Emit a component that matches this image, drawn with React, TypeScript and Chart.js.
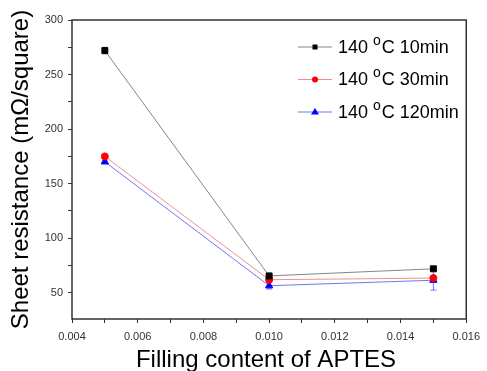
import React, { useEffect, useRef } from "react";
import { Chart, registerables } from "chart.js";

Chart.register(...registerables);

const xValues = [0.005, 0.01, 0.015];
const series10min = [272, 65.5, 72];
const series30min = [175, 62, 63.5];
const series120min = [170, 56.5, 61.5];
const err10min = [3, 1, 1];
const err30min = [1, 1, 1.5];
const err120min = [1, 3, 9];
const seriesLabels = ["10min", "30min", "120min"];
const xTicks = [0.004, 0.005, 0.006, 0.007, 0.008, 0.009, 0.01, 0.011, 0.012, 0.013, 0.014, 0.015, 0.016];
const yTicks = [50, 75, 100, 125, 150, 175, 200, 225, 250, 275, 300];
const xTitle = "Filling content of APTES";
const yTitle = "Sheet resistance (mΩ/square)";

const FONT = "'Liberation Sans', Arial, sans-serif";

export default function App() {
  const ref = useRef<HTMLCanvasElement | null>(null);

  useEffect(() => {
    document.body.style.margin = "0";
    const canvas = ref.current;
    if (!canvas) return;

    const colors = ["#000000", "#ff0000", "#0000ff"];
    const lineColors = ["#666666", "#f07070", "#5050f0"];
    const styles = ["rect", "circle", "triangle"];
    const radii = [4.2, 3.5, 4.2];
    const all = [series10min, series30min, series120min];
    const errs = [err10min, err30min, err120min];

    const errorBars = {
      id: "errorBars",
      beforeDatasetsDraw(chart: any) {
        const ctx = chart.ctx;
        const xs = chart.scales.x;
        const ys = chart.scales.y;
        ctx.save();
        all.forEach((vals, i) => {
          ctx.strokeStyle = lineColors[i];
          ctx.lineWidth = 0.8;
          vals.forEach((v, j) => {
            const px = xs.getPixelForValue(xValues[j]);
            const top = ys.getPixelForValue(v + errs[i][j]);
            const bot = ys.getPixelForValue(v - errs[i][j]);
            ctx.beginPath();
            ctx.moveTo(px, top);
            ctx.lineTo(px, bot);
            ctx.moveTo(px - 3, top);
            ctx.lineTo(px + 3, top);
            ctx.moveTo(px - 3, bot);
            ctx.lineTo(px + 3, bot);
            ctx.stroke();
          });
        });
        ctx.restore();
      },
    };

    const frame = {
      id: "frame",
      afterDraw(chart: any) {
        const ctx = chart.ctx;
        const a = chart.chartArea;
        ctx.save();
        ctx.strokeStyle = "#333333";
        ctx.lineWidth = 1.5;
        ctx.strokeRect(a.left, a.top, a.right - a.left, a.bottom - a.top);
        // x title
        ctx.fillStyle = "#000000";
        ctx.font = `24px ${FONT}`;
        ctx.textAlign = "center";
        ctx.textBaseline = "alphabetic";
        ctx.fillText(xTitle, 266, 367);
        // legend
        const x0 = 298;
        seriesLabels.forEach((lab, i) => {
          const y = 47 + 32.5 * i;
          ctx.strokeStyle = lineColors[i];
          ctx.lineWidth = 0.8;
          ctx.beginPath();
          ctx.moveTo(x0, y);
          ctx.lineTo(x0 + 34, y);
          ctx.stroke();
          ctx.fillStyle = colors[i];
          ctx.beginPath();
          if (i === 0) {
            ctx.rect(x0 + 17 - 2.5, y - 2.5, 5, 5);
          } else if (i === 1) {
            ctx.arc(x0 + 17, y, 3, 0, Math.PI * 2);
          } else {
            ctx.moveTo(x0 + 17, y - 4);
            ctx.lineTo(x0 + 21, y + 2.5);
            ctx.lineTo(x0 + 13, y + 2.5);
            ctx.closePath();
          }
          ctx.fill();
          ctx.fillStyle = "#000000";
          ctx.textBaseline = "middle";
          ctx.textAlign = "left";
          ctx.font = `18px ${FONT}`;
          let tx = 338;
          ctx.fillText("140 ", tx, y + 1);
          tx += ctx.measureText("140 ").width;
          ctx.font = `14px ${FONT}`;
          ctx.fillText("o", tx, y - 6);
          tx += ctx.measureText("o").width + 1;
          ctx.font = `18px ${FONT}`;
          ctx.fillText("C " + lab, tx, y + 1);
        });
        ctx.restore();
      },
    };

    const datasets = all.map((vals, i) => ({
      label: "140 oC " + seriesLabels[i],
      data: vals.map((v, j) => ({ x: xValues[j], y: v })),
      borderColor: lineColors[i],
      backgroundColor: colors[i],
      pointBackgroundColor: colors[i],
      pointBorderColor: colors[i],
      pointStyle: styles[i],
      pointRadius: radii[i],
      borderWidth: 0.8,
      pointBorderWidth: 1,
      tension: 0,
    }));

    const chart = new Chart(canvas, {
      type: "line",
      data: { datasets },
      plugins: [errorBars, frame],
      options: {
        responsive: false,
        animation: false,
        layout: { padding: { top: 20, right: 15, left: 0, bottom: 0 } },
        plugins: { legend: { display: false }, tooltip: { enabled: false } },
        scales: {
          x: {
            type: "linear",
            min: 0.004,
            max: 0.016,
            afterFit: (s: any) => { s.height = 52; },
            afterBuildTicks: (s: any) => { s.ticks = xTicks.map((v) => ({ value: v })); },
            grid: { drawOnChartArea: false, tickLength: 4, color: "#333333", lineWidth: 1 },
            border: { display: false },
            ticks: {
              color: "#333333",
              font: { family: FONT, size: 11 },
              padding: 7,
              maxRotation: 0,
              autoSkip: false,
              callback: (v: any) => {
                const n = Math.round(Number(v) * 1000);
                return n % 2 === 0 ? (n / 1000).toFixed(3) : "";
              },
            },
            title: { display: false },
          },
          y: {
            type: "linear",
            min: 26,
            max: 300,
            afterFit: (s: any) => { s.width = 72; },
            afterBuildTicks: (s: any) => { s.ticks = yTicks.map((v) => ({ value: v })); },
            grid: { drawOnChartArea: false, tickLength: 4, color: "#333333", lineWidth: 1 },
            border: { display: false },
            ticks: {
              color: "#333333",
              font: { family: FONT, size: 11 },
              padding: 5,
              autoSkip: false,
              callback: (v: any) => (Number(v) % 50 === 0 ? String(v) : ""),
            },
            title: {
              display: true,
              text: yTitle,
              color: "#000000",
              font: { family: FONT, size: 24 },
              padding: { top: 7, bottom: 0 },
            },
          },
        },
      },
    });
    return () => chart.destroy();
  }, []);

  return (
    <div style={{ position: "absolute", left: 0, top: 0, width: 487, height: 371, background: "#fff" }}>
      <canvas ref={ref} width={487} height={371} style={{ width: 487, height: 371 }} />
    </div>
  );
}
